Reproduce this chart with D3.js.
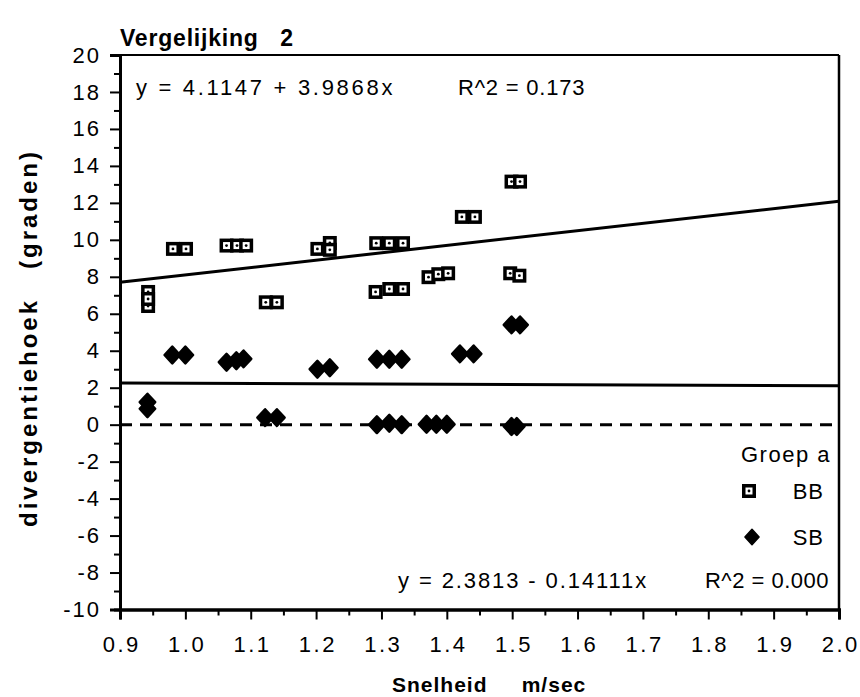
<!DOCTYPE html>
<html><head><meta charset="utf-8">
<script src="https://cdn.jsdelivr.net/npm/d3@7"></script>
<style>
html,body{margin:0;padding:0;background:#fff;}
svg text{font-family:"Liberation Sans",Arial,Helvetica,sans-serif;fill:#000;white-space:pre;}
</style></head>
<body><svg id="c" width="860" height="697"></svg>
<script>
// ---- data ----
const bbX = [0.943,0.943,0.943, 0.981,1.001, 1.063,1.079,1.093, 1.123,1.140, 1.202,1.221,1.221, 1.292,1.312,1.333, 1.291,1.312,1.333, 1.372,1.387,1.402, 1.423,1.443, 1.497,1.511, 1.499,1.512];
const bbY = [7.18,6.42,6.80, 9.51,9.51, 9.69,9.69,9.69, 6.62,6.62, 9.51,9.83,9.46, 9.82,9.82,9.82, 7.18,7.34,7.34, 7.98,8.14,8.19, 11.24,11.24, 8.19,8.06, 13.15,13.15];
const sbX = [0.942,0.942, 0.980,1.000, 1.063,1.078,1.089, 1.122,1.140, 1.202,1.221, 1.293,1.312,1.331, 1.293,1.312,1.331, 1.369,1.384,1.400, 1.420,1.441, 1.499,1.512, 1.499,1.507];
const sbY = [1.22,0.86, 3.77,3.77, 3.38,3.46,3.56, 0.38,0.38, 3.00,3.08, 3.54,3.54,3.54, 0.00,0.08,0.00, 0.02,0.02,0.02, 3.83,3.83, 5.40,5.40, -0.10,-0.10];
const bbFit = [4.1147, 3.9868];   // intercept, slope
const sbFit = [2.3813, -0.14111];
const xTicks = [0.9,1.0,1.1,1.2,1.3,1.4,1.5,1.6,1.7,1.8,1.9,2.0];
const xMinor = [0.95,1.05,1.15,1.25,1.35,1.45,1.55,1.65,1.75,1.85,1.95];
const yTicks = [-10,-8,-6,-4,-2,0,2,4,6,8,10,12,14,16,18,20];
const yMinor = [-9,-7,-5,-3,-1,1,3,5,7,9,11,13,15,17,19];
const titleText = "Vergelijking   2";
const xLabel = "Snelheid     m/sec";
const yLabel = "divergentiehoek   (graden)";
const eqTop = ["y = 4.1147 + 3.9868x", "R^2 = 0.173"];
const eqBot = ["y = 2.3813 - 0.14111x", "R^2 = 0.000"];
const legendTitle = "Groep a";
const seriesNames = ["BB", "SB"];

// ---- layout ----
const svg = d3.select("#c");
const L = 120, R = 839, T = 55, B = 609.5;
const x = d3.scaleLinear().domain([0.9, 2.0]).range([L, R]);
const y = d3.scaleLinear().domain([-10, 20]).range([B, T]);
const FONT = '"Liberation Sans",Arial,sans-serif';

// frame
svg.append("line").attr("x1",L).attr("x2",R).attr("y1",T).attr("y2",T).attr("stroke","#000").attr("stroke-width",2);
svg.append("line").attr("x1",R).attr("x2",R).attr("y1",T).attr("y2",B).attr("stroke","#000").attr("stroke-width",2.5);

// axes
const fmtX = d3.format(".1f");
const fmtY = d => String(d).replace("\u2212","-");
const gx = svg.append("g").attr("transform",`translate(0,${B})`)
  .call(d3.axisBottom(x).tickValues(xTicks).tickSize(10).tickPadding(17).tickFormat(fmtX));
const gxm = svg.append("g").attr("transform",`translate(0,${B})`)
  .call(d3.axisBottom(x).tickValues(xMinor).tickSize(6).tickFormat(""));
const gy = svg.append("g").attr("transform",`translate(${L},0)`)
  .call(d3.axisLeft(y).tickValues(yTicks).tickSize(10).tickPadding(11).tickFormat(fmtY));
const gym = svg.append("g").attr("transform",`translate(${L},0)`)
  .call(d3.axisLeft(y).tickValues(yMinor).tickSize(6).tickFormat(""));
[gx,gxm,gy,gym].forEach(g=>{
  g.selectAll("path.domain").attr("stroke","#000").attr("stroke-width",3);
  g.selectAll(".tick line").attr("stroke","#000").attr("stroke-width",2);
});
gx.selectAll(".tick text").attr("font-size",22).attr("letter-spacing","2.5px").attr("dx","1.25px").style("font-family",FONT);
gy.selectAll(".tick text").attr("font-size",22).attr("letter-spacing","2px").attr("dx","2px").style("font-family",FONT);

// zero dashed line
svg.append("line").attr("x1",x(0.9)).attr("x2",x(2.0)).attr("y1",y(0)).attr("y2",y(0))
  .attr("stroke","#000").attr("stroke-width",3).attr("stroke-dasharray","12,8");

// regression lines
function fitLine(fit){
  return [0.9, 2.0].map(v => [x(v), y(fit[0] + fit[1]*v)]);
}
const lineGen = d3.line();
svg.append("path").attr("d", lineGen(fitLine(bbFit))).attr("stroke","#000").attr("stroke-width",3).attr("fill","none");
svg.append("path").attr("d", lineGen(fitLine(sbFit))).attr("stroke","#000").attr("stroke-width",3).attr("fill","none");

// markers
function drawBB(g, cx, cy){
  const m = g.append("g").attr("transform",`translate(${cx},${cy})`);
  m.append("rect").attr("x",-7).attr("y",-7).attr("width",14).attr("height",14).attr("fill","#000");
  m.append("rect").attr("x",-3.5).attr("y",-3.5).attr("width",7).attr("height",7).attr("fill","#fff");
  m.append("circle").attr("r",1.4).attr("fill","#000");
}
const diamondType = { draw(ctx, size){ const r = Math.sqrt(size)/2; ctx.moveTo(0,-r*1.08); ctx.lineTo(r,0); ctx.lineTo(0,r*1.08); ctx.lineTo(-r,0); ctx.closePath(); } };
const diamond = d3.symbol().type(diamondType).size(240);

const gBB = svg.append("g");
bbX.forEach((v,i)=> drawBB(gBB, x(v), y(bbY[i])));
const gSB = svg.append("g");
sbX.forEach((v,i)=> gSB.append("path").attr("d", diamond()).attr("transform",`translate(${x(v)},${y(sbY[i])})`)
  .attr("fill","#000").attr("stroke","#000").attr("stroke-width",2.5).attr("stroke-linejoin","round"));

// texts
svg.append("text").attr("x",120).attr("y",46).attr("font-size",23).attr("font-weight","bold").attr("letter-spacing","0.8px").text(titleText);
svg.append("text").attr("x",392).attr("y",692).attr("font-size",21).attr("font-weight","bold").attr("letter-spacing","1px").text(xLabel);
svg.append("text").attr("transform","translate(37,338) rotate(-90)").attr("text-anchor","middle").attr("font-size",24).attr("font-weight","bold").attr("letter-spacing","3px").text(yLabel);

const eqStyle = (t, ls) => t.attr("font-size",22).attr("letter-spacing", ls + "px");
svg.append("text").attr("x",136).attr("y",95).call(eqStyle, 2.7).text(eqTop[0]);
svg.append("text").attr("x",458).attr("y",95).call(eqStyle, 0.8).text(eqTop[1]);
svg.append("text").attr("x",398).attr("y",588).call(eqStyle, 1.9).text(eqBot[0]);
svg.append("text").attr("x",829).attr("y",588).attr("text-anchor","end").call(eqStyle, 0.5).text(eqBot[1]);

// legend
svg.append("text").attr("x",831).attr("y",462).attr("text-anchor","end").call(eqStyle, 1.5).text(legendTitle);
drawBB(svg, 749, 491);
svg.append("path").attr("d", diamond.size(200)()).attr("transform","translate(752,537)").attr("fill","#000")
  .attr("stroke","#000").attr("stroke-width",1.5).attr("stroke-linejoin","round");
svg.append("text").attr("x",824).attr("y",499).attr("text-anchor","end").call(eqStyle, 1).text(seriesNames[0]);
svg.append("text").attr("x",824).attr("y",545).attr("text-anchor","end").call(eqStyle, 1).text(seriesNames[1]);
</script></body></html>
